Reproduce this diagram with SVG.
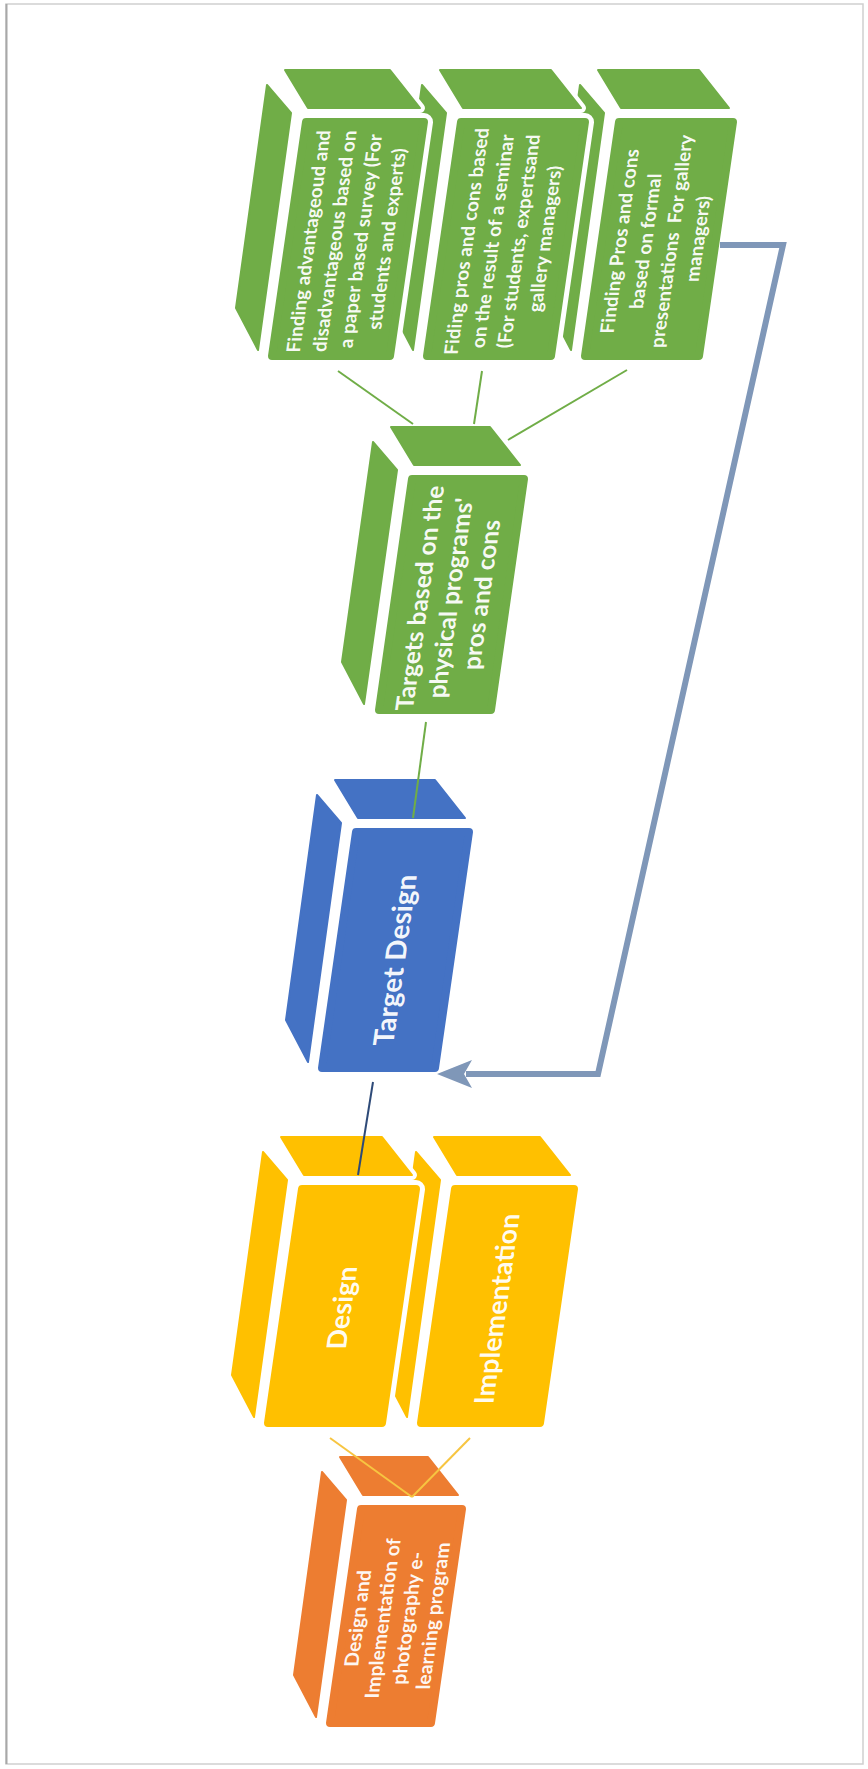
<svg xmlns="http://www.w3.org/2000/svg" width="868" height="1769" viewBox="0 0 868 1769">
  <style>
    .green{fill:#70AD47;stroke:#70AD47}
    .blue{fill:#4472C4;stroke:#4472C4}
    .gold{fill:#FFC000;stroke:#FFC000}
    .orange{fill:#ED7D31;stroke:#ED7D31}
    .node .side,.node .top{stroke-width:2;stroke-linejoin:round}
    .node .front{stroke-width:8;stroke-linejoin:round}
    .node .halo{fill:#fff;stroke:#fff;stroke-width:18;stroke-linejoin:round}
    .node .thalo{fill:#fff;stroke:#fff;stroke-width:10;stroke-linejoin:round}
    .node text{fill:#fff;fill-opacity:.94;stroke:none;font-family:Lato,"Liberation Sans",sans-serif;font-weight:700;text-anchor:middle}
    .lg{stroke:#70AD47;stroke-width:2}
    .lb{stroke:#2E4A78;stroke-width:2}
    .ly{stroke:#F7C541;stroke-width:2}
    .fb{stroke:#7F97B8;stroke-width:6;fill:none;stroke-linejoin:miter}
    .fbh{fill:#7F97B8}
  </style>

  <!-- page frame -->
  <rect x="6" y="4" width="857" height="1760" fill="#fff" stroke="#cfcfcf" stroke-width="1.5"/>
  <line x1="6.5" y1="4" x2="6.5" y2="1764" stroke="#a8a8a8" stroke-width="2"/>

  <!-- green row: sources of pros and cons (drawn right to left so fronts overlap side faces) -->
  <g id="node-presentations" class="node green">
    <polygon class="side" points="580,85 604,113 571,350 549,308"/>
    <polygon class="thalo" points="598,70 699,70 729,108 621,108"/>
    <polygon class="top" points="598,70 699,70 729,108 621,108"/>
    <polygon class="halo" points="619,122 733,122 699,356 585,356"/>
    <polygon class="front" points="619,122 733,122 699,356 585,356"/>
    <text transform="matrix(0.14,-1,1,0,659,239)" font-size="19">
      <tspan x="0" y="-32.4">Finding Pros and cons</tspan>
      <tspan x="0" y="-6.4">based on formal</tspan>
      <tspan x="0" y="19.6">presentations&#160; For gallery</tspan>
      <tspan x="0" y="45.6">managers)</tspan>
    </text>
  </g>

  <g id="node-seminar" class="node green">
    <polygon class="side" points="422,85 446,113 413,350 391,308"/>
    <polygon class="thalo" points="440,70 551,70 581,108 463,108"/>
    <polygon class="top" points="440,70 551,70 581,108 463,108"/>
    <polygon class="halo" points="461,122 585,122 551,356 427,356"/>
    <polygon class="front" points="461,122 585,122 551,356 427,356"/>
    <text transform="matrix(0.14,-1,1,0,506,239)" font-size="19">
      <tspan x="0" y="-32.4">Fiding pros and cons based</tspan>
      <tspan x="0" y="-6.4">on the result of a seminar</tspan>
      <tspan x="0" y="19.6">(For students, expertsand</tspan>
      <tspan x="0" y="45.6">gallery managers)</tspan>
    </text>
  </g>

  <g id="node-survey" class="node green">
    <polygon class="side" points="267,85 291,113 258,350 236,308"/>
    <polygon class="thalo" points="285,70 390,70 420,108 308,108"/>
    <polygon class="top" points="285,70 390,70 420,108 308,108"/>
    <polygon class="halo" points="306,122 424,122 390,356 272,356"/>
    <polygon class="front" points="306,122 424,122 390,356 272,356"/>
    <text transform="matrix(0.14,-1,1,0,348,239)" font-size="19">
      <tspan x="0" y="-32.4">Finding advantageoud and</tspan>
      <tspan x="0" y="-6.4">disadvantageous based on</tspan>
      <tspan x="0" y="19.6">a paper based survey (For</tspan>
      <tspan x="0" y="45.6">students and experts)</tspan>
    </text>
  </g>

  <!-- targets -->
  <g id="node-targets" class="node green">
    <polygon class="side" points="373,442 397,470 364,704 342,662"/>
    <polygon class="top" points="391,427 490,427 520,465 414,465"/>
    <polygon class="halo" points="412,479 524,479 491,710 379,710"/>
    <polygon class="front" points="412,479 524,479 491,710 379,710"/>
    <text transform="matrix(0.14,-1,1,0,451,595)" font-size="24.5">
      <tspan x="0" y="-22">Targets based on the</tspan>
      <tspan x="0" y="8.5">physical programs'</tspan>
      <tspan x="0" y="39">pros and cons</tspan>
    </text>
  </g>

  <g id="node-target-design" class="node blue">
    <polygon class="side" points="317,795 341,823 308,1062 286,1020"/>
    <polygon class="top" points="335,780 435,780 465,818 358,818"/>
    <polygon class="halo" points="356,832 469,832 435,1068 322,1068"/>
    <polygon class="front" points="356,832 469,832 435,1068 322,1068"/>
    <text transform="matrix(0.14,-1,1,0,395,960)" font-size="28">
      <tspan x="0" y="10">Target Design</tspan>
    </text>
  </g>

  <!-- design and implementation -->
  <g id="node-implementation" class="node gold">
    <polygon class="side" points="416,1152 440,1180 407,1417 385,1375"/>
    <polygon class="thalo" points="434,1137 540,1137 570,1175 457,1175"/>
    <polygon class="top" points="434,1137 540,1137 570,1175 457,1175"/>
    <polygon class="halo" points="455,1189 574,1189 540,1423 421,1423"/>
    <polygon class="front" points="455,1189 574,1189 540,1423 421,1423"/>
    <text transform="matrix(0.14,-1,1,0,497,1309)" font-size="27">
      <tspan x="0" y="9.5">Implementation</tspan>
    </text>
  </g>

  <g id="node-design" class="node gold">
    <polygon class="side" points="263,1152 287,1180 254,1417 232,1375"/>
    <polygon class="thalo" points="281,1137 382,1137 412,1175 304,1175"/>
    <polygon class="top" points="281,1137 382,1137 412,1175 304,1175"/>
    <polygon class="halo" points="302,1189 416,1189 382,1423 268,1423"/>
    <polygon class="front" points="302,1189 416,1189 382,1423 268,1423"/>
    <text transform="matrix(0.14,-1,1,0,342,1308)" font-size="27">
      <tspan x="0" y="9.5">Design</tspan>
    </text>
  </g>

  <g id="node-program" class="node orange">
    <polygon class="side" points="322,1472 346,1500 316,1717 294,1675"/>
    <polygon class="top" points="340,1457 428,1457 458,1495 363,1495"/>
    <polygon class="halo" points="361,1509 462,1509 431,1723 330,1723"/>
    <polygon class="front" points="361,1509 462,1509 431,1723 330,1723"/>
    <text transform="matrix(0.14,-1,1,0,396,1616)" font-size="19.5">
      <tspan x="0" y="-31">Design and</tspan>
      <tspan x="0" y="-6">Implementation of</tspan>
      <tspan x="0" y="19">photography e-</tspan>
      <tspan x="0" y="44">learning program</tspan>
    </text>
  </g>

  <!-- connectors -->
  <g id="connectors" fill="none">
    <line class="lg" x1="338" y1="371" x2="413" y2="424"/>
    <line class="lg" x1="482" y1="371" x2="474" y2="424"/>
    <line class="lg" x1="627" y1="370" x2="508" y2="440"/>
    <line class="lg" x1="426" y1="722" x2="413" y2="818"/>
    <line class="lb" x1="373" y1="1082" x2="358" y2="1175"/>
    <line class="ly" x1="330" y1="1438" x2="412" y2="1497"/>
    <line class="ly" x1="470" y1="1438" x2="412" y2="1497"/>
    <path class="fb" d="M720 245 H783 L598 1074 H466"/>
    <polygon class="fbh" points="437,1074 472,1060 464,1074 472,1088"/>
  </g>
</svg>
